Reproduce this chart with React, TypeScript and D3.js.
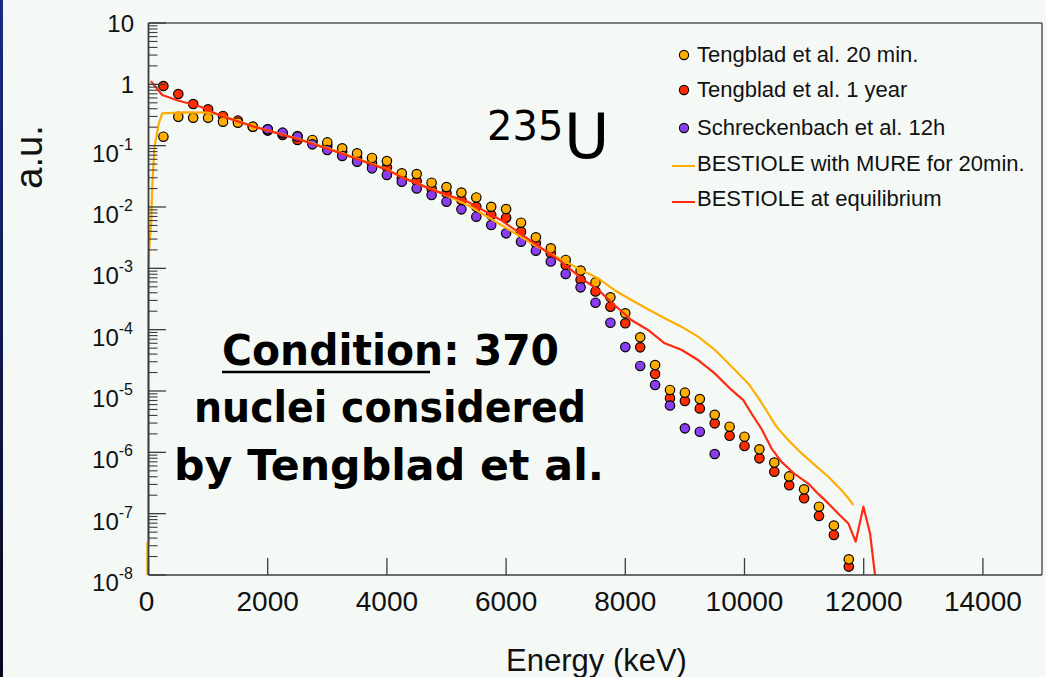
import React from "react";
import * as d3 from "d3";

// ---------- data ----------
const energyKeV = [250, 500, 750, 1000, 1250, 1500, 1750, 2000, 2250, 2500, 2750, 3000, 3250, 3500, 3750, 4000, 4250, 4500, 4750, 5000, 5250, 5500, 5750, 6000, 6250, 6500, 6750, 7000, 7250, 7500, 7750, 8000, 8250, 8500, 8750, 9000, 9250, 9500, 9750, 10000, 10250, 10500, 10750, 11000, 11250, 11500, 11750];

const tengblad20min = [0.14, 0.295, 0.285, 0.285, 0.246, 0.237, 0.204, 0.185, 0.159, 0.144, 0.124, 0.113, 0.0905, 0.075, 0.063, 0.056, 0.0355, 0.0345, 0.0249, 0.0211, 0.0172, 0.0143, 0.0101, 0.00927, 0.00555, 0.0032, 0.00212, 0.00137, 9.2e-4, 5.9e-4, 3.37e-4, 1.85e-4, 7.5e-5, 2.65e-5, 1.04e-5, 9.4e-6, 7.4e-6, 4.1e-6, 2.62e-6, 1.8e-6, 1.12e-6, 6.8e-7, 4.05e-7, 2.49e-7, 1.3e-7, 6.4e-8, 1.8e-8];

const tengblad1year = [0.94, 0.695, 0.478, 0.391, 0.305, 0.256, 0.204, 0.176, 0.149, 0.124, 0.116, 0.0988, 0.0798, 0.0646, 0.0515, 0.0443, 0.0293, 0.0265, 0.0201, 0.0167, 0.013, 0.0101, 0.0074, 0.0067, 0.00396, 0.00256, 0.00176, 0.00113, 6.5e-4, 4.2e-4, 2.37e-4, 1.27e-4, 5.15e-5, 1.89e-5, 7.6e-6, 6.9e-6, 5.2e-6, 2.97e-6, 1.86e-6, 1.27e-6, 7.98e-7, 4.84e-7, 2.9e-7, 1.78e-7, 9.2e-8, 4.5e-8, 1.37e-8];

const schreckEnergyKeV = [2000, 2250, 2500, 2750, 3000, 3250, 3500, 3750, 4000, 4250, 4500, 4750, 5000, 5250, 5500, 5750, 6000, 6250, 6500, 6750, 7000, 7250, 7500, 7750, 8000, 8250, 8500, 8750, 9000, 9250, 9500];
const schreckenbach12h = [0.185, 0.163, 0.14, 0.105, 0.085, 0.0678, 0.0548, 0.0427, 0.0333, 0.0259, 0.0201, 0.0157, 0.0122, 0.00916, 0.00695, 0.00508, 0.00372, 0.00272, 0.00194, 0.00129, 8.1e-4, 4.9e-4, 2.75e-4, 1.3e-4, 5.2e-5, 2.56e-5, 1.25e-5, 5.8e-6, 2.46e-6, 2.17e-6, 9.4e-7];

const mureEnergyKeV = [-18, -18, 0, 0, 17, 45, 62, 100, 175, 230, 600, 1000, 1240, 1770, 2555, 3227, 4012, 4235, 4795, 5356, 5916, 6476, 6924, 7260, 7541, 7821, 8101, 8381, 8661, 8941, 9221, 9501, 9782, 10062, 10258, 10398, 10538, 10734, 10958, 11182, 11406, 11630, 11743, 11826];
const mure20min = [5e-9, 3.4e-8, 3.4e-8, 1e-3, 2.6e-3, 5.5e-3, 0.021, 0.095, 0.234, 0.337, 0.35, 0.345, 0.31, 0.205, 0.126, 0.077, 0.041, 0.031, 0.019, 0.0108, 0.0051, 0.0024, 1.4e-3, 9.4e-4, 6.9e-4, 4.4e-4, 3.05e-4, 2.15e-4, 1.53e-4, 1.12e-4, 7.7e-5, 4.7e-5, 2.5e-5, 1.33e-5, 7.1e-6, 4.3e-6, 2.6e-6, 1.59e-6, 9.6e-7, 6.2e-7, 4.0e-7, 2.4e-7, 1.78e-7, 1.38e-7];

const equilEnergyKeV = [40, 230, 480, 875, 1240, 1770, 2555, 3227, 4012, 4235, 4795, 5356, 5916, 6476, 6924, 7260, 7541, 7821, 8101, 8381, 8661, 8941, 9221, 9501, 9782, 9980, 10118, 10286, 10454, 10622, 10846, 11070, 11238, 11406, 11574, 11743, 11866, 11995, 12106, 12190, 12215];
const equilibrium = [1.13, 0.67, 0.55, 0.43, 0.3, 0.204, 0.124, 0.075, 0.04, 0.031, 0.0185, 0.0122, 0.0061, 0.00255, 0.00129, 6.9e-4, 4.5e-4, 2.5e-4, 1.44e-4, 9.9e-5, 6.0e-5, 4.7e-5, 3.2e-5, 1.94e-5, 1.04e-5, 7.1e-6, 4.3e-6, 2.4e-6, 1.15e-6, 7.0e-7, 4.4e-7, 3.1e-7, 2.1e-7, 1.47e-7, 1.0e-7, 6.9e-8, 3.5e-8, 1.3e-7, 4.8e-8, 1.0e-8, 5e-9];

const xTicks = [0, 2000, 4000, 6000, 8000, 10000, 12000, 14000];
const yExponents = [-8, -7, -6, -5, -4, -3, -2, -1, 0, 1];

const legendLabels = [
  "Tengblad et al. 20 min.",
  "Tengblad et al. 1 year",
  "Schreckenbach et al. 12h",
  "BESTIOLE with MURE for 20min.",
  "BESTIOLE at equilibrium",
];

// ---------- styles ----------
const C_ORANGE = "#ffad00";
const C_RED = "#ff2c00";
const C_PURPLE = "#8a3df0";
const C_ORANGE_LINE = "#ffad00";
const C_RED_LINE = "#ff2a10";
const BG = "#f5f9f6";
const AXIS = "#3c3c3c";
const SANS = "'Liberation Sans', Arial, Helvetica, sans-serif";
const COMIC = "'Comic Sans MS', 'DejaVu Sans', sans-serif";

const W = 1046;
const H = 677;
const PL = 148.5, PR = 1042, PT = 23, PB = 575;

export default function App() {
  const x = d3.scaleLinear().domain([0, 15000]).range([PL, PR + 0.5]);
  const y = d3.scaleLog().domain([1e-8, 10]).range([PB, PT]);

  const line = d3
    .line<[number, number]>()
    .x((d) => x(d[0]))
    .y((d) => y(d[1]));

  const mureData = mureEnergyKeV.map((e, i) => [e, mure20min[i]] as [number, number]);
  const equilData = equilEnergyKeV.map((e, i) => [e, equilibrium[i]] as [number, number]);

  const minorTicks: number[] = [];
  for (let k = -8; k < 1; k++) {
    for (let m = 2; m <= 9; m++) minorTicks.push(m * Math.pow(10, k));
  }

  const R = 4.7;
  const dot = (e: number, v: number, fill: string, key: string) => (
    <circle key={key} cx={x(e)} cy={y(v)} r={R} fill={fill} stroke="#000" strokeWidth={1.2} />
  );

  const legendX = 684;
  const legendTextX = 697;

  return (
    <svg
      width={W}
      height={H}
      style={{ position: "absolute", left: 0, top: 0, display: "block" }}
      xmlns="http://www.w3.org/2000/svg"
    >
      <defs>
        <linearGradient id="strip" x1="0" y1="0" x2="0" y2="1">
          <stop offset="0" stopColor="#1b2a82" />
          <stop offset="1" stopColor="#06081c" />
        </linearGradient>
        <clipPath id="plotclip">
          <rect x={PL - 3} y={PT} width={PR - PL + 3} height={PB - PT} />
        </clipPath>
      </defs>
      <rect x={0} y={0} width={W} height={H} fill={BG} />
      <rect x={0} y={0} width={3} height={H} fill="url(#strip)" />

      {/* data */}
      <g clipPath="url(#plotclip)">
        {energyKeV.map((e, i) => dot(e, tengblad1year[i], C_RED, "r" + i))}
        {energyKeV.map((e, i) => dot(e, tengblad20min[i], C_ORANGE, "o" + i))}
        {schreckEnergyKeV.map((e, i) => dot(e, schreckenbach12h[i], C_PURPLE, "p" + i))}
        <path d={line(mureData) || ""} fill="none" stroke={C_ORANGE_LINE} strokeWidth={2.2} strokeLinejoin="round" />
        <path d={line(equilData) || ""} fill="none" stroke={C_RED_LINE} strokeWidth={2.2} strokeLinejoin="round" />
      </g>

      {/* frame */}
      <line x1={PL} y1={PT} x2={PR} y2={PT} stroke="#555" strokeWidth={1.5} />
      <line x1={PR} y1={PT} x2={PR} y2={PB} stroke="#555" strokeWidth={1.5} />

      {/* y ticks */}
      {yExponents.map((k) => (
        <line key={"ymaj" + k} x1={PL} x2={PL + 17.5} y1={y(Math.pow(10, k))} y2={y(Math.pow(10, k))} stroke={AXIS} strokeWidth={1.3} />
      ))}
      {minorTicks.map((v, i) => (
        <line key={"ymin" + i} x1={PL} x2={PL + 9} y1={y(v)} y2={y(v)} stroke={AXIS} strokeWidth={1.1} />
      ))}
      {/* x ticks */}
      {xTicks.map((t) => (
        <line key={"xt" + t} x1={x(t)} x2={x(t)} y1={PB} y2={PB - 17} stroke={AXIS} strokeWidth={1.3} />
      ))}

      {/* axes */}
      <line x1={PL} y1={PT} x2={PL} y2={PB} stroke={AXIS} strokeWidth={1.8} />
      <line x1={PL} y1={PB} x2={PR} y2={PB} stroke={AXIS} strokeWidth={1.6} />

      {/* y tick labels */}
      {yExponents.map((k) => {
        const ty = y(Math.pow(10, k));
        if (k === 0 || k === 1) {
          return (
            <text key={"yl" + k} x={134} y={ty + 8.5} textAnchor="end" fontFamily={SANS} fontSize={24} fill="#111">
              {k === 0 ? "1" : "10"}
            </text>
          );
        }
        return (
          <text key={"yl" + k} x={133} y={ty + 16} textAnchor="end" fontFamily={SANS} fontSize={24} fill="#111">
            <tspan>10</tspan>
            <tspan fontSize={16} dy={-12}>{String(k)}</tspan>
          </text>
        );
      })}

      {/* x tick labels */}
      {xTicks.map((t) => (
        <text key={"xl" + t} x={x(t) - (t === 0 ? 2 : 0)} y={611} textAnchor="middle" fontFamily={SANS} fontSize={28} fill="#111">
          {String(t)}
        </text>
      ))}

      {/* axis titles */}
      <text x={596.5} y={670.5} textAnchor="middle" fontFamily={SANS} fontSize={31} fill="#111">
        Energy (keV)
      </text>
      <text transform="translate(42,157) rotate(-90)" textAnchor="middle" fontFamily={SANS} fontSize={38} fill="#111">
        a.u.
      </text>

      {/* legend */}
      {[C_ORANGE, C_RED, C_PURPLE].map((c, i) => (
        <circle key={"lg" + i} cx={legendX} cy={[55, 90, 128][i]} r={4.6} fill={c} stroke="#000" strokeWidth={1.1} />
      ))}
      {[C_ORANGE_LINE, C_RED_LINE].map((c, i) => (
        <line key={"ll" + i} x1={672} x2={695} y1={[166, 202][i]} y2={[166, 202][i]} stroke={c} strokeWidth={2} />
      ))}
      {legendLabels.map((s, i) => (
        <text key={"lt" + i} x={legendTextX} y={[62, 97, 135, 171, 206][i]} fontFamily={SANS} fontSize={22} fill="#111">
          {s}
        </text>
      ))}

      {/* 235U */}
      <text x={487} y={140} fontFamily={COMIC} fontSize={40} fill="#000">235</text>
      <text x={564} y={158} fontFamily={COMIC} fontSize={62} fill="#000">U</text>

      {/* Condition annotation */}
      <text x={222} y={365} fontFamily={COMIC} fontWeight="bold" fontSize={42} fill="#000" textLength={337} lengthAdjust="spacingAndGlyphs">
        Condition: 370
      </text>
      <line x1={222} x2={430} y1={372} y2={372} stroke="#000" strokeWidth={2.5} />
      <text x={194} y={422} fontFamily={COMIC} fontWeight="bold" fontSize={42} fill="#000" textLength={392} lengthAdjust="spacingAndGlyphs">
        nuclei considered
      </text>
      <text x={174} y={480} fontFamily={COMIC} fontWeight="bold" fontSize={42} fill="#000" textLength={430} lengthAdjust="spacingAndGlyphs">
        by Tengblad et al.
      </text>
    </svg>
  );
}
